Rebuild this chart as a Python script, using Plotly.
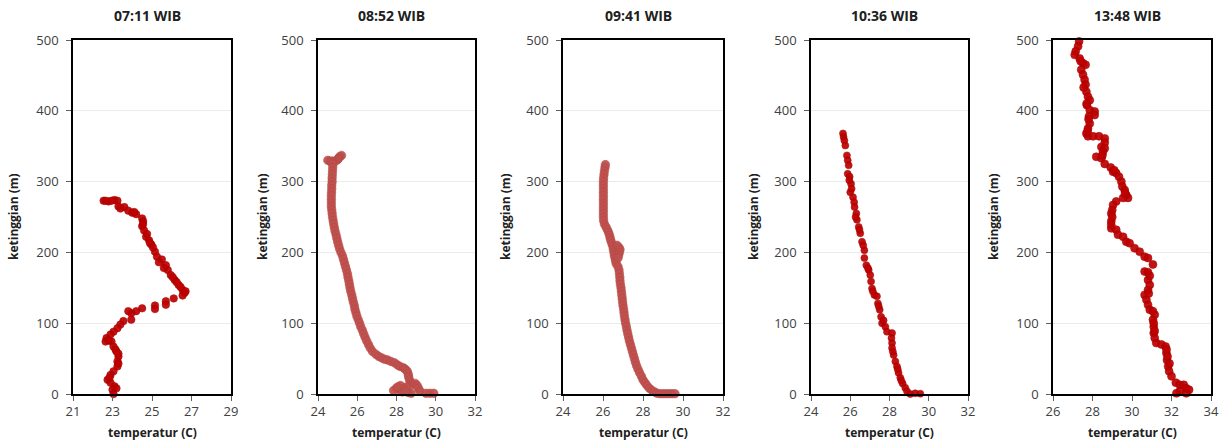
import plotly.graph_objects as go

titles = ["07:11 WIB", "08:52 WIB", "09:41 WIB", "10:36 WIB", "13:48 WIB"]
x_ranges = [[21, 29], [24, 32], [24, 32], [24, 32], [26, 34]]

# 07:11 WIB
temp_0711 = [22.55, 22.8, 23.1, 23.25, 23.3, 23.6, 23.8, 24.0, 24.2, 24.5, 24.55, 24.5, 24.6, 24.7,
             24.85, 24.97, 25.15, 25.25, 25.5, 25.7, 25.8, 25.95, 26.15, 26.35, 26.55, 26.65, 26.55,
             26.1, 25.7, 25.7, 25.15, 25.15, 24.5, 24.2, 23.95, 23.8, 23.95, 23.55, 23.4, 23.25, 23.05,
             22.9, 22.7, 22.65, 22.95, 23.05, 23.2, 23.3, 23.25, 23.25, 23.05, 22.9, 22.75, 22.9, 23.1,
             23.2, 23.0, 23.05,
             22.65, 22.95, 23.4, 24.1, 24.55, 24.75, 24.9, 25.05, 25.35, 25.6, 26.05, 26.25, 26.45,
             26.7, 23.15, 22.8, 23.3, 23.3, 22.85]
alt_0711 = [273, 272, 274, 273, 265, 264, 259, 256, 254, 248, 244, 237, 231, 222,
            217, 211, 201, 194, 190, 182, 175, 168, 161, 154, 147, 143, 139,
            135, 131, 126, 125, 120, 121, 117, 114, 117, 105, 103, 98, 93, 88,
            84, 79, 74, 74, 67, 60, 53, 46, 39, 32, 27, 20, 16, 11,
            8, 6, 0,
            273, 273, 262, 257, 240, 226, 213, 207, 186, 178, 165, 158, 151,
            145, 63, 76, 57, 43, 23]

# 08:52 WIB
temp_0852 = [25.2, 25.1, 25.05, 25.0, 24.9, 24.75, 24.6, 24.5, 24.7, 24.75, 24.75, 24.74, 24.73,
             24.72, 24.72, 24.7, 24.7, 24.69, 24.68, 24.68, 24.68, 24.68, 24.7, 24.72, 24.74, 24.77,
             24.8, 24.83, 24.87, 24.92, 24.96, 25.0, 25.05, 25.1, 25.17, 25.25, 25.3, 25.35, 25.4,
             25.45, 25.5, 25.53, 25.57, 25.6, 25.63, 25.67, 25.72, 25.76, 25.8, 25.85, 25.88, 25.93,
             25.98, 26.05, 26.12, 26.18, 26.26, 26.33, 26.4, 26.48, 26.57, 26.66, 26.78, 26.95, 27.1,
             27.25, 27.4, 27.55, 27.72, 27.9, 28.05, 28.18, 28.35, 28.45, 28.55, 28.6, 28.62, 28.66,
             28.72, 28.8, 28.95, 29.05, 29.12, 29.2, 28.5, 28.35, 28.15, 28.0, 27.85, 28.3, 28.6,
             28.75, 28.45, 29.5, 29.7, 29.9, 28.2, 28.05]
alt_0852 = [337, 335, 333, 331, 329, 329, 329, 330, 328, 325, 320, 315, 310,
            305, 300, 295, 290, 285, 280, 275, 270, 265, 260, 255, 250, 245,
            240, 235, 230, 225, 220, 215, 210, 205, 200, 195, 190, 185, 180,
            175, 170, 165, 160, 155, 150, 145, 140, 135, 130, 125, 120, 115,
            110, 105, 100, 95, 90, 85, 80, 75, 70, 65, 60, 56, 53,
            51, 49, 48, 46, 44, 41, 39, 37, 35, 32, 28, 24, 20,
            16, 13, 15, 12, 8, 4, 10, 8, 6, 8, 5, 3, 2,
            1, 4, 1, 1, 1, 12, 10]

# 09:41 WIB
temp_0941 = [26.12, 26.1, 26.07, 26.05, 26.03, 26.02, 26.02, 26.02, 26.02, 26.02, 26.02, 26.02, 26.02,
             26.02, 26.02, 26.02, 26.03, 26.07, 26.15, 26.22, 26.28, 26.33, 26.36, 26.4, 26.45, 26.5,
             26.52, 26.55, 26.57, 26.6, 26.63, 26.66, 26.7, 26.8, 26.85, 26.82, 26.78, 26.75, 26.75,
             26.8, 26.82, 26.84, 26.85, 26.87, 26.9, 26.92, 26.94, 26.96, 26.98, 27.0, 27.03, 27.05,
             27.07, 27.1, 27.13, 27.17, 27.2, 27.24, 27.28, 27.32, 27.37, 27.42, 27.47, 27.52, 27.57,
             27.62, 27.68, 27.75, 27.83, 27.92, 28.0, 28.1, 28.2, 28.32, 28.45, 28.58, 28.7, 28.85,
             29.0, 29.15, 29.3, 29.45, 29.6]
alt_0941 = [324, 320, 315, 310, 305, 300, 295, 290, 285, 280, 275, 270, 265,
            260, 255, 250, 245, 240, 236, 232, 228, 224, 220, 216, 212, 208,
            204, 200, 196, 192, 188, 184, 210, 207, 204, 200, 196, 192, 180,
            175, 170, 165, 160, 155, 150, 145, 140, 135, 130, 125, 120, 115,
            110, 105, 100, 95, 90, 85, 80, 75, 70, 65, 60, 55, 50,
            45, 40, 35, 30, 25, 20, 16, 12, 8, 5, 3, 1, 0.5,
            0.5, 0.5, 0.5, 0.5, 0.5]

# 10:36 WIB
temp_1036 = [25.63, 25.66, 25.7, 25.75, 25.83, 25.87, 25.92, 25.87, 25.97, 26.04, 26.0, 26.14, 26.2,
             26.22, 26.31, 26.34, 26.43, 26.51, 26.6, 26.72, 26.72, 26.82, 26.94, 27.02, 27.06, 27.11,
             27.23, 27.36, 27.41, 27.5, 27.57, 27.62, 27.79, 27.87, 28.13, 28.13, 28.13, 28.21, 28.3,
             28.38, 28.46, 28.55, 28.67, 28.8, 28.89, 29.06, 29.31, 29.57,
             25.95, 26.07, 26.27, 26.47, 26.66, 26.9, 27.15, 27.45, 27.7, 28.1, 28.17, 28.42, 28.6]
alt_1036 = [368, 363, 358, 351, 337, 330, 323, 311, 307, 297, 285, 278, 271,
            264, 255, 246, 236, 227, 215, 203, 192, 182, 175, 168, 159, 149,
            140, 138, 128, 119, 109, 100, 95, 88, 86, 72, 65, 55, 46,
            39, 30, 23, 15, 9, 4, 0, 1, 0.5,
            302, 290, 250, 232, 210, 178, 145, 124, 104, 79, 60, 35, 19]

# 13:48 WIB
temp_1348 = [27.32, 27.27, 27.15, 27.1, 27.35, 27.52, 27.65, 27.43, 27.52, 27.6, 27.65, 27.69, 27.77,
             27.86, 27.72, 27.86, 28.11, 28.11, 27.82, 27.86, 27.77, 27.69, 27.77, 28.03, 28.33, 28.62,
             28.62, 28.45, 28.62, 28.53, 28.19, 28.45, 28.62, 28.92, 29.04, 29.2, 29.34, 29.46, 29.51,
             29.63, 29.71, 29.8, 29.55, 29.2, 29.04, 29.0, 28.95, 28.95, 28.95, 29.2, 29.29, 29.55,
             29.71, 29.88, 30.13, 30.39, 30.64, 30.81, 31.06, 30.64, 30.81, 30.81, 30.9, 30.81, 30.64,
             30.73, 30.81, 30.9, 31.06, 31.15, 31.06, 31.1, 31.1, 31.15, 31.23, 31.49, 31.7, 31.74,
             31.77, 31.83, 31.88, 32.0, 32.22, 32.42, 32.62, 32.75, 32.89, 32.42, 32.75, 32.25,
             27.4, 27.55, 27.7, 27.8, 27.75, 28.5, 29.1, 29.65, 29.0, 28.95, 30.9, 30.85, 31.1,
             31.15, 31.75, 31.8, 31.9]
alt_1348 = [498, 491, 484, 479, 474, 467, 465, 458, 451, 444, 437, 427, 420,
            415, 408, 401, 399, 394, 392, 382, 375, 368, 364, 364, 364, 361,
            355, 349, 347, 342, 335, 333, 325, 320, 314, 312, 307, 300, 293,
            288, 281, 277, 277, 272, 267, 260, 255, 244, 234, 232, 225, 222,
            215, 213, 206, 201, 194, 192, 183, 173, 172, 161, 154, 147, 140,
            133, 126, 119, 117, 112, 105, 95, 86, 79, 72, 70, 67, 58,
            48, 39, 32, 25, 16, 13, 13, 8, 6, 4, 1, 1,
            470, 433, 410, 388, 371, 337, 316, 284, 250, 239, 167, 142, 100,
            89, 63, 53, 43]

temps = [temp_0711, temp_0852, temp_0941, temp_1036, temp_1348]
alts = [alt_0711, alt_0852, alt_0941, alt_1036, alt_1348]
colors = ["#C00000", "#C0504D", "#C0504D", "#C00000", "#C00000"]
edge_colors = ["#a00000", "#b04845", "#b04845", "#a00000", "#a00000"]
sizes = [7.5, 8.5, 8.5, 7, 8]

W, H = 1221, 441
plot_left = [73, 318, 563, 811, 1053]
plot_right = [231, 475, 723, 968, 1211]
ylabel_x = [13, 262, 505, 753, 993]
top_px, bottom_px = 40, 394


def px_x(p):
    return p / W


def px_y(p):
    return 1 - p / H


fig = go.Figure()
layout = dict(
    width=W, height=H, margin=dict(l=0, r=0, t=0, b=0, autoexpand=False),
    paper_bgcolor="white", plot_bgcolor="white", showlegend=False,
    font=dict(family="Open Sans, sans-serif", size=12, color="#404040"),
)
annotations = []
for i in range(5):
    sfx = "" if i == 0 else str(i + 1)
    fig.add_trace(go.Scatter(
        x=temps[i], y=alts[i], mode="markers",
        marker=dict(size=sizes[i], color=colors[i], opacity=0.92,
                    line=dict(width=0.6, color=edge_colors[i])),
        cliponaxis=False,
        xaxis="x" + sfx, yaxis="y" + sfx,
    ))
    layout["xaxis" + sfx] = dict(
        domain=[px_x(plot_left[i]), px_x(plot_right[i])], anchor="y" + sfx,
        range=x_ranges[i], dtick=2, tick0=x_ranges[i][0],
        showgrid=False, zeroline=False, showline=True, linecolor="black", linewidth=1.5,
        mirror=True, ticks="outside", ticklen=5, tickcolor="#606060",
        tickfont=dict(size=13, color="#404040"), fixedrange=True, automargin=False,
    )
    layout["yaxis" + sfx] = dict(
        domain=[px_y(bottom_px), px_y(top_px)], anchor="x" + sfx, range=[0, 500], dtick=100,
        showgrid=True, gridcolor="#ebebeb", gridwidth=1, zeroline=False,
        showline=True, linecolor="black", linewidth=1.5, mirror=True,
        ticks="outside", ticklen=5, tickcolor="#606060", ticklabelstandoff=5,
        tickfont=dict(size=13, color="#404040"), fixedrange=True, automargin=False,
    )
    cx = (plot_left[i] + plot_right[i]) / 2
    annotations.append(dict(
        text="<b>%s</b>" % titles[i], x=px_x(cx - 5), y=px_y(15), xref="paper", yref="paper",
        xanchor="center", yanchor="middle", showarrow=False,
        font=dict(size=14, color="#202020"),
    ))
    annotations.append(dict(
        text="<b>temperatur (C)</b>", x=px_x(cx), y=px_y(432), xref="paper", yref="paper",
        xanchor="center", yanchor="middle", showarrow=False,
        font=dict(size=12, color="#202020"),
    ))
    annotations.append(dict(
        text="<b>ketinggian (m)</b>", x=px_x(ylabel_x[i]), y=px_y(217), xref="paper", yref="paper",
        xanchor="center", yanchor="middle", showarrow=False, textangle=-90,
        font=dict(size=12, color="#202020"),
    ))
layout["annotations"] = annotations
fig.update_layout(**layout)
fig.write_html(
    "out.html",
    config={"displayModeBar": False},
    post_script="document.body.style.margin='0';document.body.style.overflow='hidden';",
)
